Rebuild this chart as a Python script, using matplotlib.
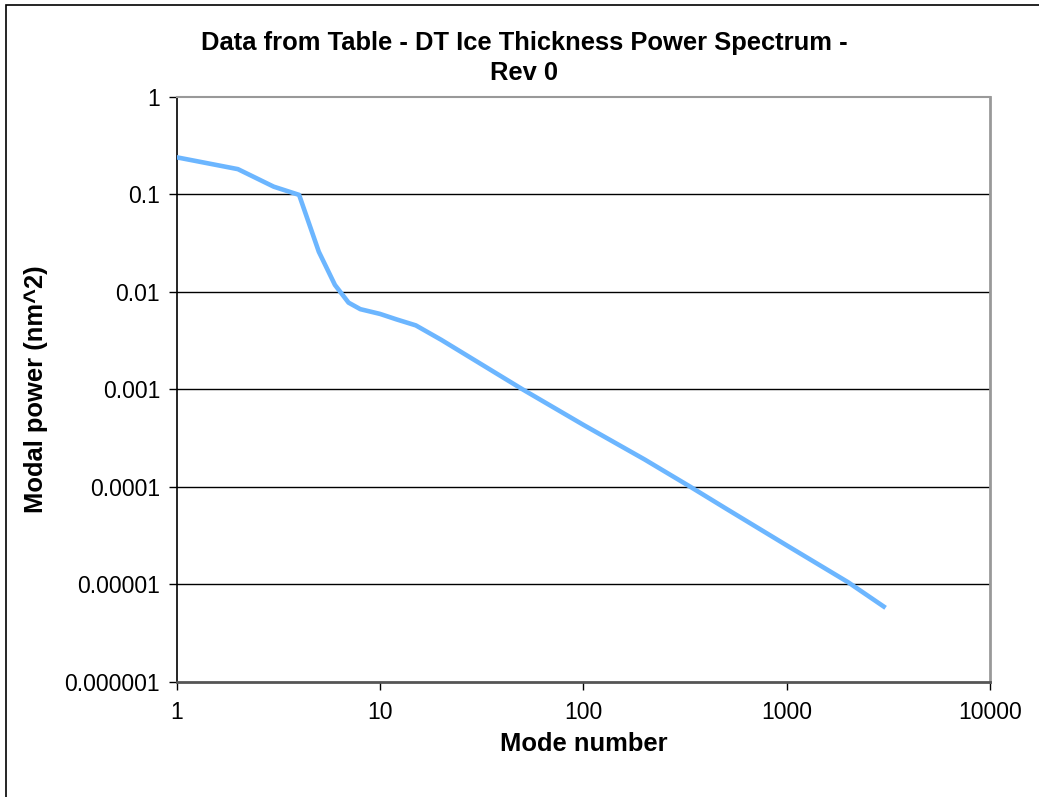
import matplotlib
matplotlib.use("Agg")
import matplotlib.pyplot as plt
from matplotlib.patches import Rectangle
from matplotlib.ticker import FixedLocator, FixedFormatter, NullLocator

plt.rcParams["font.family"] = ["Liberation Sans", "DejaVu Sans"]

# values
MODE_NUMBER = [1, 2, 3, 4, 5, 6, 7, 8, 10, 12, 15, 20, 50, 100, 200, 335, 500, 1000, 2000, 3000]
MODAL_POWER = [0.238, 0.180, 0.119, 0.098, 0.0256, 0.0117, 0.0077, 0.0066, 0.0059, 0.0052,
               0.0045, 0.0032, 0.0010, 0.00043, 0.00019, 0.00010, 6.0e-5, 2.5e-5, 1.05e-5, 5.9e-6]

X_TICKS = [1, 10, 100, 1000, 10000]
X_TICK_LABELS = ["1", "10", "100", "1000", "10000"]
Y_TICKS = [1e-6, 1e-5, 1e-4, 1e-3, 1e-2, 1e-1, 1]
Y_TICK_LABELS = ["0.000001", "0.00001", "0.0001", "0.001", "0.01", "0.1", "1"]
GRID_LEVELS = [1e-5, 1e-4, 1e-3, 1e-2, 1e-1]

TITLE = "Data from Table - DT Ice Thickness Power Spectrum -\nRev 0"
X_LABEL = "Mode number"
Y_LABEL = "Modal power (nm^2)"

W, H = 1039, 797
fig = plt.figure(figsize=(W / 100, H / 100), dpi=100)
ax = fig.add_axes([176.7 / W, 1 - 681.7 / H, (990 - 176.7) / W, (681.7 - 96.5) / H])

ax.set_xscale("log")
ax.set_yscale("log")
ax.set_xlim(1, 10000)
ax.set_ylim(1e-6, 1)

for level in GRID_LEVELS:
    ax.axhline(level, color="black", lw=1.0, zorder=1)

ax.plot(MODE_NUMBER, MODAL_POWER, color="#6cb6ff", lw=3.3, solid_joinstyle="round", zorder=3)

ax.xaxis.set_major_locator(FixedLocator(X_TICKS))
ax.xaxis.set_major_formatter(FixedFormatter(X_TICK_LABELS))
ax.yaxis.set_major_locator(FixedLocator(Y_TICKS))
ax.yaxis.set_major_formatter(FixedFormatter(Y_TICK_LABELS))
ax.xaxis.set_minor_locator(NullLocator())
ax.yaxis.set_minor_locator(NullLocator())
ax.tick_params(axis="both", direction="out", length=6, width=1, color="black",
               labelsize=16.6, labelcolor="black")
ax.tick_params(axis="x", pad=8)
ax.tick_params(axis="y", pad=6)

ax.spines["left"].set_color("black")
ax.spines["left"].set_linewidth(1.2)
ax.spines["bottom"].set_color("#555555")
ax.spines["bottom"].set_linewidth(2.0)
ax.spines["right"].set_color("#999999")
ax.spines["right"].set_linewidth(2.0)
ax.spines["top"].set_color("#999999")
ax.spines["top"].set_linewidth(1.5)

ax.set_xlabel(X_LABEL, fontsize=18.4, fontweight="bold", labelpad=6)
ax.set_ylabel(Y_LABEL, fontsize=18.4, fontweight="bold", labelpad=12)

fig.text(524 / W, 1 - 58 / H, TITLE, ha="center", va="center", fontsize=18.4,
         fontweight="bold", linespacing=1.3)

# outer chart border, partly running off the picture like the original
fig.patches.append(Rectangle((6 / W, -0.05), 1.1, 1 - 5 / H + 0.05, transform=fig.transFigure,
                             fill=False, edgecolor="black", lw=1.2))

fig.savefig("out.png", dpi=100)
